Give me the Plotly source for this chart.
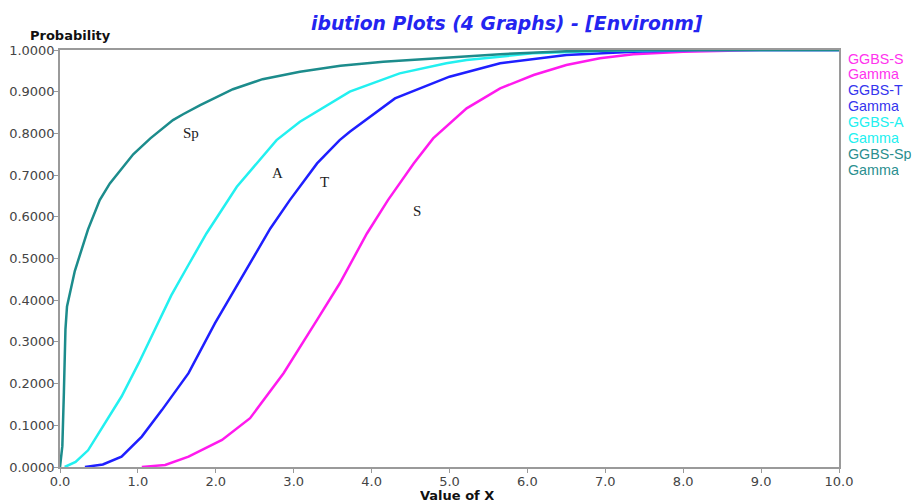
import plotly.graph_objects as go

# Data (cumulative probability curves)
sp_x = [0.0, 0.03, 0.05, 0.07, 0.09, 0.19, 0.36, 0.51, 0.64, 0.94, 1.16, 1.45, 1.58, 1.80, 2.22, 2.60, 3.08, 3.60, 4.15, 4.92, 5.65, 6.5, 7.5, 8.5, 10.0]
sp_p = [0.0, 0.05, 0.18, 0.33, 0.385, 0.47, 0.57, 0.64, 0.68, 0.75, 0.788, 0.832, 0.846, 0.868, 0.906, 0.93, 0.948, 0.962, 0.972, 0.981, 0.99, 0.997, 1.0, 1.0, 1.0]

a_x = [0.06, 0.20, 0.36, 0.58, 0.79, 1.01, 1.22, 1.43, 1.65, 1.88, 2.27, 2.52, 2.78, 3.08, 3.72, 4.36, 4.96, 5.22, 6.07, 7.0, 8.0, 10.0]
a_p = [0.0, 0.012, 0.04, 0.105, 0.169, 0.249, 0.33, 0.412, 0.485, 0.56, 0.672, 0.728, 0.784, 0.828, 0.90, 0.944, 0.968, 0.976, 0.992, 0.998, 1.0, 1.0]

t_x = [0.32, 0.55, 0.79, 1.05, 1.31, 1.65, 1.99, 2.25, 2.50, 2.70, 2.95, 3.30, 3.59, 3.72, 4.30, 5.0, 5.65, 6.5, 7.36, 8.2, 10.0]
t_p = [0.0, 0.006, 0.025, 0.073, 0.137, 0.225, 0.345, 0.428, 0.51, 0.572, 0.64, 0.728, 0.784, 0.804, 0.884, 0.936, 0.968, 0.988, 0.996, 1.0, 1.0]

s_x = [1.05, 1.35, 1.65, 2.08, 2.44, 2.87, 3.30, 3.59, 3.94, 4.21, 4.54, 4.79, 5.22, 5.65, 6.08, 6.50, 6.93, 7.36, 8.0, 9.0, 10.0]
s_p = [0.0, 0.005, 0.025, 0.065, 0.117, 0.225, 0.353, 0.44, 0.56, 0.64, 0.728, 0.788, 0.86, 0.908, 0.94, 0.964, 0.98, 0.99, 0.996, 1.0, 1.0]

series_names = ["GGBS-S", "GGBS-T", "GGBS-A", "GGBS-Sp"]
series_tags = ["S", "T", "A", "Sp"]
series_colors = ["#ff1aee", "#1f1fff", "#22f0f0", "#1c8c8c"]
legend_colors = ["#ff33ee", "#3535ee", "#22f0f0", "#2a8f8f"]
legend_sub = "Gamma"

x_ticks = [0.0, 1.0, 2.0, 3.0, 4.0, 5.0, 6.0, 7.0, 8.0, 9.0, 10.0]
y_ticks = [0.0, 0.1, 0.2, 0.3, 0.4, 0.5, 0.6, 0.7, 0.8, 0.9, 1.0]

# tag label positions (data coords)
tag_pos = {"Sp": (1.68, 0.80), "A": (2.79, 0.705), "T": (3.40, 0.683), "S": (4.58, 0.615)}

# plot area in page pixels: x 60..839, y 50..467
def px_x(p):
    return (p - 60) / 779

def px_y(p):
    return (467 - p) / 417

fig = go.Figure()
curves = [(s_x, s_p), (t_x, t_p), (a_x, a_p), (sp_x, sp_p)]
for (xs, ps), name, col in zip(curves, series_names, series_colors):
    fig.add_trace(go.Scatter(x=xs, y=ps, mode="lines", name=name,
                             line=dict(color=col, width=2.5, shape="linear"),
                             showlegend=False))

for tag in series_tags:
    tx, ty = tag_pos[tag]
    fig.add_annotation(x=tx, y=ty, xref="x", yref="y", text=tag, showarrow=False,
                       font=dict(family="Liberation Serif", size=15, color="#222222"))

# right-hand text legend, one line per annotation
for i, (name, col) in enumerate(zip(series_names, legend_colors)):
    for j, txt in enumerate([name, legend_sub]):
        ypix = 58 + (2 * i + j) * 15.9
        fig.add_annotation(x=px_x(846), y=px_y(ypix), xref="paper", yref="paper",
                           text=txt, showarrow=False, xanchor="left", yanchor="middle",
                           height=15, font=dict(family="Liberation Sans", size=14.3, color=col))

fig.add_annotation(x=px_x(507), y=px_y(24), xref="paper", yref="paper",
                   text="<b><i>ibution Plots (4 Graphs) - [Environm]</i></b>", showarrow=False,
                   xanchor="center", yanchor="middle",
                   font=dict(family="DejaVu Sans", size=18.8, color="#2424f0"))
fig.add_annotation(x=px_x(28), y=px_y(36), xref="paper", yref="paper",
                   text="<b>Probability</b>", showarrow=False, xanchor="left", yanchor="middle",
                   font=dict(family="DejaVu Sans", size=13, color="#111111"))
fig.add_annotation(x=px_x(457), y=px_y(495), xref="paper", yref="paper",
                   text="<b>Value of X</b>", showarrow=False, xanchor="center", yanchor="middle",
                   height=13, font=dict(family="DejaVu Sans", size=13, color="#111111"))

# page has an 8px body margin, so the figure is sized/margined to put the plot area
# at the reference's pixel positions
fig.update_layout(
    width=913, height=495,
    margin=dict(l=52, r=82, t=42, b=36),
    paper_bgcolor="white", plot_bgcolor="white",
    font=dict(family="DejaVu Sans", size=13, color="#444444"),
    showlegend=False,
)
fig.update_xaxes(range=[0, 10], tickvals=x_ticks, ticktext=[f"{v:.1f}" for v in x_ticks],
                 showgrid=False, zeroline=False, showline=True, linecolor="#9a9a9a", linewidth=1.5,
                 mirror=True, ticks="outside", ticklen=4, tickcolor="#9a9a9a", automargin=False,
                 ticklabelstandoff=-2,
                 tickfont=dict(family="DejaVu Sans", size=13, color="#444444"))
fig.update_yaxes(range=[0, 1], tickvals=y_ticks, ticktext=[f"{v:.4f}" for v in y_ticks],
                 showgrid=False, zeroline=False, showline=True, linecolor="#9a9a9a", linewidth=1.5,
                 mirror=True, ticks="outside", ticklen=4, tickcolor="#9a9a9a", automargin=False,
                 ticklabelstandoff=-3,
                 tickfont=dict(family="DejaVu Sans", size=13, color="#444444"))

fig.write_html("out.html")
